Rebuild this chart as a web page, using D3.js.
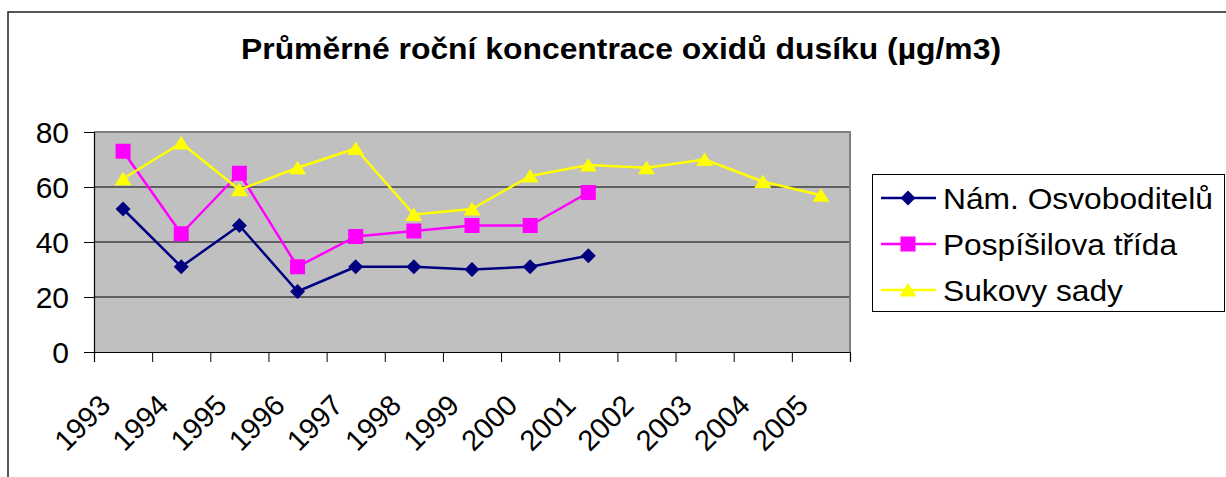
<!DOCTYPE html>
<html>
<head>
<meta charset="utf-8">
<script src="https://cdn.jsdelivr.net/npm/d3@7"></script>
<style>
  html, body { margin: 0; padding: 0; background: #fff; }
  svg { display: block; font-family: "Liberation Sans", Arial, sans-serif; }
</style>
</head>
<body>
<svg id="chart" width="1226" height="477"></svg>
<script>
const titleText = "Průměrné roční koncentrace oxidů dusíku (µg/m3)";
const years = ["1993","1994","1995","1996","1997","1998","1999","2000","2001","2002","2003","2004","2005"];
const yTicks = [0, 20, 40, 60, 80];
const seriesNames = ["Nám. Osvoboditelů", "Pospíšilova třída", "Sukovy sady"];
const osvoboditelu = [52, 31, 46, 22, 31, 31, 30, 31, 35];
const pospisilova = [73, 43, 65, 31, 42, 44, 46, 46, 58];
const sukovy = [63, 76, 59, 67, 74, 50, 52, 64, 68, 67, 70, 62, 57];

const colors = ["#000080", "#FF00FF", "#FFFF00"];
const shapes = ["diamond", "square", "triangle"];
const series = [osvoboditelu, pospisilova, sukovy].map((vals, i) => ({
  name: seriesNames[i], color: colors[i], shape: shapes[i],
  points: vals.map((v, j) => ({year: years[j], value: v}))
}));

const svg = d3.select("#chart");
const L = 94, R = 850, T = 132, B = 352;

const shapePath = {
  diamond: "M0,-7.5L7.5,0L0,7.5L-7.5,0Z",
  square: "M-7.5,-7.5H7.5V7.5H-7.5Z",
  triangle: "M0,-7L8.5,6.5L-8.5,6.5Z"
};

// outer chart border (top and left visible)
svg.append("path").attr("d", "M8,1000V12H1300")
  .attr("fill", "none").attr("stroke", "#222").attr("stroke-width", 1.5);

// title
svg.append("text").attr("x", 621).attr("y", 59)
  .attr("text-anchor", "middle").attr("font-weight", "bold").attr("font-size", 29)
  .attr("textLength", 760).attr("lengthAdjust", "spacingAndGlyphs")
  .text(titleText);

const x = d3.scaleBand().domain(years).range([L, R]).paddingInner(0).paddingOuter(0);
const xb = d3.scaleLinear().domain([0, years.length]).range([L, R]);
const y = d3.scaleLinear().domain([0, 80]).range([B, T]);

// plot area
svg.append("rect").attr("x", L).attr("y", T).attr("width", R - L).attr("height", B - T)
  .attr("fill", "#C0C0C0");

// gridlines
svg.append("g").selectAll("line").data(yTicks.filter(t => t > 0 && t < 80)).join("line")
  .attr("x1", L).attr("x2", R).attr("y1", d => y(d)).attr("y2", d => y(d))
  .attr("stroke", "#000").attr("stroke-width", 1);

// plot border top & right (gray)
svg.append("path").attr("d", `M${L},${T}H${R}V${B}`).attr("fill", "none")
  .attr("stroke", "#808080").attr("stroke-width", 2);

// y axis
const yAxis = svg.append("g").attr("transform", `translate(${L},0)`)
  .call(d3.axisLeft(y).tickValues(yTicks).tickSize(10).tickPadding(15).tickFormat(d3.format("d")));
yAxis.select(".domain").attr("stroke", "#000").attr("stroke-width", 1.2);
yAxis.selectAll(".tick line").attr("stroke", "#000");
yAxis.selectAll(".tick text").attr("font-size", 30).attr("fill", "#000")
  .attr("font-family", "Liberation Sans, Arial, sans-serif").attr("dy", "0.36em");

// x axis (ticks at category boundaries)
const xAxis = svg.append("g").attr("transform", `translate(0,${B})`)
  .call(d3.axisBottom(xb).tickValues(d3.range(years.length + 1)).tickSize(10).tickFormat(""));
xAxis.select(".domain").attr("stroke", "#000").attr("stroke-width", 1.2);
xAxis.selectAll(".tick line").attr("stroke", "#000");

// x labels, rotated
svg.append("g").selectAll("text").data(years).join("text")
  .attr("transform", d => `translate(${x(d) + x.bandwidth() / 2 - 11},${B + 55}) rotate(-45)`)
  .attr("text-anchor", "end").attr("font-size", 29).attr("fill", "#000")
  .text(d => d);

// series lines and markers
const line = d3.line().x(d => x(d.year) + x.bandwidth() / 2).y(d => y(d.value));
series.forEach(s => {
  svg.append("path").datum(s.points).attr("d", line)
    .attr("fill", "none").attr("stroke", s.color).attr("stroke-width", 2.5)
    .attr("stroke-linejoin", "round");
  svg.append("g").selectAll("path").data(s.points).join("path")
    .attr("transform", d => `translate(${x(d.year) + x.bandwidth() / 2},${y(d.value)})`)
    .attr("d", shapePath[s.shape]).attr("fill", s.color);
});

// legend
const lg = svg.append("g");
lg.append("rect").attr("x", 872.5).attr("y", 174.5).attr("width", 352).attr("height", 137)
  .attr("fill", "#fff").attr("stroke", "#000").attr("stroke-width", 1);
const legendWidths = [270, 234, 180];
series.forEach((s, i) => {
  const cy = 198 + i * 46;
  lg.append("line").attr("x1", 881).attr("x2", 936).attr("y1", cy).attr("y2", cy)
    .attr("stroke", s.color).attr("stroke-width", 2.5);
  lg.append("path").attr("transform", `translate(908,${cy})`).attr("d", shapePath[s.shape])
    .attr("fill", s.color);
  lg.append("text").attr("x", 943).attr("y", cy + 11).attr("font-size", 30).attr("fill", "#000")
    .attr("textLength", legendWidths[i]).attr("lengthAdjust", "spacingAndGlyphs")
    .text(s.name);
});
</script>
</body>
</html>
